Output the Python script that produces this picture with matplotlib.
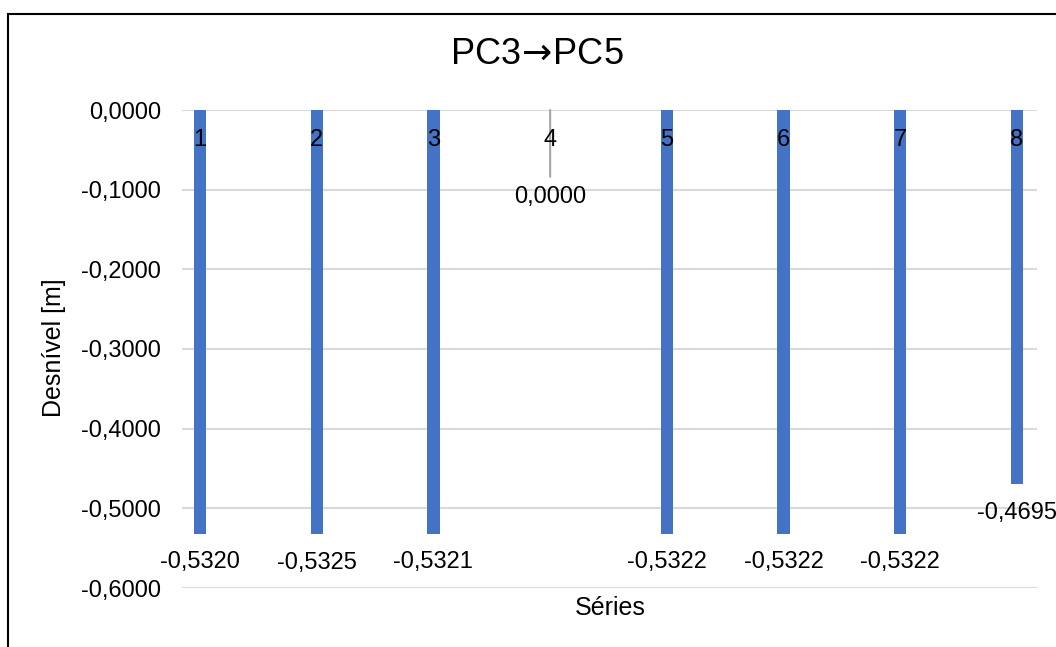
import matplotlib
matplotlib.use('Agg')
import matplotlib.pyplot as plt
from matplotlib.patches import Rectangle

plt.rcParams['font.family'] = ['Liberation Sans', 'DejaVu Sans']

series = [1, 2, 3, 4, 5, 6, 7, 8]
desnivel = [-0.5320, -0.5325, -0.5321, 0.0000, -0.5322, -0.5322, -0.5322, -0.4695]
yticks = [0.0, -0.1, -0.2, -0.3, -0.4, -0.5, -0.6]

W, H = 1056, 647
fig = plt.figure(figsize=(W / 100, H / 100), dpi=100)
ax = fig.add_axes([182 / W, (H - 588) / H, (1037 - 182) / W, (588 - 110) / H])

blue = '#4472C4'
ax.bar(series, desnivel, width=0.105, color=blue, zorder=3)

ax.set_ylim(-0.6, 0.0)
ax.set_xlim(0.846, 8.171)
ax.set_yticks(yticks)
ax.set_yticklabels(['{:.4f}'.format(v).replace('.', ',') for v in yticks], fontsize=17)
ax.set_xticks([])
ax.tick_params(axis='y', length=0, pad=15)
ax.yaxis.grid(True, color='#d9d9d9', linewidth=1.5, zorder=0)
for s in ax.spines.values():
    s.set_visible(False)

# category number just under the zero line
for x in series:
    ax.annotate(str(x), (x, 0), xytext=(0, -21.5), textcoords='offset points',
                ha='center', va='center', fontsize=17, zorder=5, annotation_clip=False)

# value labels below each bar end
for x, v in zip(series, desnivel):
    txt = '{:.4f}'.format(v).replace('.', ',')
    if v == 0:
        ax.annotate(txt, (x, v), xytext=(0, -63), textcoords='offset points',
                    ha='center', va='center', fontsize=17, annotation_clip=False,
                    arrowprops=dict(arrowstyle='-', color='#a6a6a6', lw=1.5,
                                    shrinkA=5, shrinkB=0))
    else:
        ax.annotate(txt, (x, v), xytext=(0, -20.5), textcoords='offset points',
                    ha='center', va='center', fontsize=17, annotation_clip=False)

fig.text(537 / W, 1 - 55 / H, r'PC3$\!\rightarrow\!$PC5', ha='center', va='center',
         fontsize=26)
fig.text(54 / W, 1 - 348 / H, 'Desnível [m]', ha='center', va='center',
         rotation=90, fontsize=18)
fig.text(610 / W, 1 - 608 / H, 'Séries', ha='center', va='center', fontsize=18)

# chart frame
fig.add_artist(Rectangle((8 / W, -0.2), 2.0, 1.2 - 14 / H, transform=fig.transFigure,
                         fill=False, edgecolor='black', linewidth=1.5))

fig.savefig('out.png', dpi=100)
